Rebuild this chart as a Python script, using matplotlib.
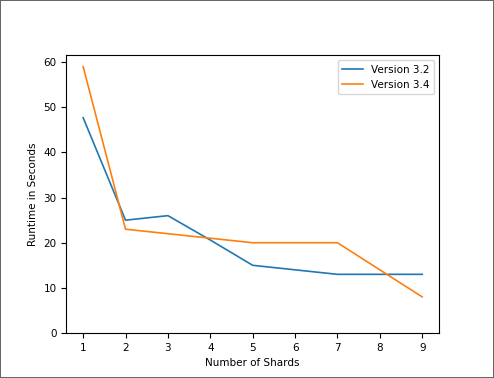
import numpy as np
import matplotlib
matplotlib.use('Agg')
import matplotlib.pyplot as plt

shards = [1, 2, 3, 4, 5, 6, 7, 8, 9]
v32 = [47.7, 25, 26, 20.6, 15, 14, 13, 13, 13]
v34 = [59, 23, 22, 21, 20, 20, 20, 14, 8]
labels = ['Version 3.2', 'Version 3.4']

plt.rcParams['font.size'] = 7.5

fig = plt.figure(figsize=(4.94, 3.78), dpi=100)
fig.patch.set_edgecolor('#666666')
fig.patch.set_linewidth(1.2)
ax = fig.add_axes([0.134, 0.119, 0.755, 0.735])

ax.plot(shards, v32, color='#1f77b4', lw=1.2, label=labels[0])
ax.plot(shards, v34, color='#ff7f0e', lw=1.2, label=labels[1])
ax.set_ylim(bottom=0)
ax.set_xticks(shards)
ax.set_xlabel('Number of Shards')
ax.set_ylabel('Runtime in Seconds')
ax.legend(loc='upper right')

fig.savefig('out.png', dpi=100)
